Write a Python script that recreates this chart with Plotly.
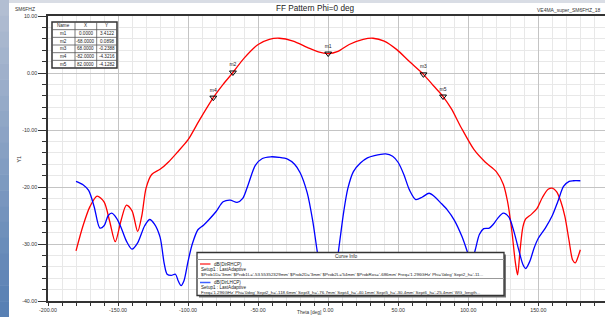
import plotly.graph_objects as go

# ---------------- data ----------------
rhcp_theta = [-180, -175, -170, -165, -160, -156, -152, -148, -144, -140, -136, -133, -130, -126, -120,
              -114, -108, -100, -92, -82, -75, -68, -60, -50, -42, -35, -25, -15, -7, 0, 7, 15, 25, 32,
              40, 49, 58, 68, 75, 82, 88, 95, 104, 112, 120, 125, 128, 131, 133.5, 135.2, 137, 139, 141,
              145, 149, 153, 157, 160, 163, 166, 169, 172, 174.5, 176.5, 178, 180]
rhcp_db = [-31.2, -26.8, -23.4, -21.6, -22.6, -26.0, -29.6, -26.0, -23.2, -24.2, -27.8, -25.0, -20.2, -17.8, -16.9,
           -15.6, -14.0, -11.7, -8.3, -4.3216, -2.0, 0.0898, 2.6, 5.0, 5.9, 6.1, 5.6, 4.5, 3.7, 3.4122, 3.8, 5.0, 5.9, 6.1,
           5.6, 4.1, 2.0, -0.2388, -2.2, -4.1282, -6.3, -9.6, -13.4, -15.6, -17.3, -19.5, -22.5, -27.5, -33.0, -35.4, -31.0, -27.0, -25.6,
           -24.8, -23.8, -21.8, -20.4, -20.2, -20.8, -22.5, -25.2, -29.5, -32.8, -33.3, -32.5, -31.0]

lhcp_theta = [-180, -175, -171, -167, -163, -160, -157, -154.5, -151, -148, -144, -140, -136, -131, -127.5, -124,
              -120, -117, -115, -112, -109, -107, -105, -103, -100, -97, -93, -89, -85, -80, -75, -70, -65, -61,
              -57, -52, -47, -41, -35, -29, -24, -20, -15, -11, -8, -5, 0, 5, 8, 11, 14, 18, 23, 28, 33, 41, 46,
              50, 54, 58, 62.5, 67, 72, 76, 80, 85, 90, 95.5, 99.5, 102, 105, 108, 111, 115, 118, 121, 125, 129,
              132, 136, 139, 141, 144, 147, 150, 155, 160, 164, 168, 172, 175, 180]
lhcp_db = [-19.0, -19.6, -20.6, -23.5, -27.2, -26.8, -25.0, -24.6, -25.5, -27.0, -29.5, -30.9, -29.8, -26.8, -25.7, -26.5,
           -28.8, -33.5, -35.3, -35.5, -35.3, -36.5, -37.3, -36.5, -33.0, -30.0, -27.5, -26.7, -25.7, -24.3, -22.6, -22.3, -22.7, -22.0,
           -19.5, -16.2, -15.0, -14.7, -14.8, -15.1, -16.0, -17.5, -21.0, -26.0, -31.0, -35.5, -38.0, -35.0, -30.0, -24.5, -20.3, -17.3, -15.8, -14.9, -14.5, -14.2, -14.6,
           -15.7, -17.8, -20.5, -22.2, -21.8, -21.1, -21.7, -22.7, -24.0, -25.8, -28.7, -31.5, -33.5, -31.0, -28.3, -27.3, -27.2, -26.5, -25.5, -24.6, -25.3,
           -27.3, -31.0, -33.6, -34.3, -33.0, -30.7, -29.0, -27.2, -25.0, -22.5, -19.9, -19.0, -18.9, -18.9]

marker_names = ["m1", "m2", "m3", "m4", "m5"]
marker_x = [0.0, -68.0, 68.0, -82.0, 82.0]
marker_y = [3.4122, 0.0898, -0.2388, -4.3216, -4.1282]

x_ticks = [-200, -150, -100, -50, 0, 50, 100, 150]
y_ticks = [10, 0, -10, -20, -30, -40]

legend_lines = [
    ("dB(DirRHCP)", "Setup1 : LastAdaptive",
     "$Prob1D='3mm' $Prob1L='-53.55352329mm' $Prob2D='3mm' $Prob2L='54mm' $ProbRos='-686mm' Freq='1.296GHz' Phi='0deg' Sept2_h='-11..."),
    ("dB(DirLHCP)", "Setup1 : LastAdaptive",
     "Freq='1.296GHz' Phi='0deg' Sept2_h='-118.6mm' Sept3_h='-76.7mm' Sept4_h='-40.1mm' Sept5_h='-30.4mm' Sept6_h='-25.4mm' WG_length..."),
]

# ---------------- geometry helpers ----------------
W, H = 605, 317
L, R, T, B = 48, 0, 16, 16
PW, PH = W - L - R, H - T - B
FONT = "Arial, Liberation Sans, sans-serif"


def px(x):
    return (x - L) / PW


def py(y):
    return (H - B - y) / PH


fig = go.Figure()

fig.add_trace(go.Scatter(x=rhcp_theta, y=rhcp_db, mode="lines", name="dB(DirRHCP)",
                         line=dict(color="#ff0000", width=1.3, shape="spline", smoothing=0.8),
                         hoverinfo="skip"))
fig.add_trace(go.Scatter(x=lhcp_theta, y=lhcp_db, mode="lines", name="dB(DirLHCP)",
                         line=dict(color="#0000ff", width=1.3, shape="spline", smoothing=0.8),
                         hoverinfo="skip"))
fig.add_trace(go.Scatter(x=marker_x, y=marker_y, mode="markers+text", text=marker_names,
                         textposition="top center", textfont=dict(size=5, color="#222", family=FONT),
                         marker=dict(symbol="triangle-down-open", size=6, color="#000",
                                     line=dict(width=1, color="#000")),
                         hoverinfo="skip"))

shapes = []
annotations = []

# background blue strip on left (gradient imitation)
n = 20
top_c = (178, 190, 210)
bot_c = (88, 128, 180)
for i in range(n):
    f = i / (n - 1)
    c = tuple(int(top_c[k] + (bot_c[k] - top_c[k]) * f) for k in range(3))
    y0 = H * i / n
    y1 = H * (i + 1) / n
    shapes.append(dict(type="rect", xref="paper", yref="paper", x0=px(0), x1=px(9),
                       y0=py(y1 + 0.5), y1=py(y0), fillcolor="rgb(%d,%d,%d)" % c, line=dict(width=0),
                       layer="below"))
# top grey strip
shapes.append(dict(type="rect", xref="paper", yref="paper", x0=px(9), x1=px(W), y0=py(3), y1=py(0),
                   fillcolor="#d9dde5", line=dict(width=0), layer="below"))

# ---- marker table ----
tx = [52, 75, 96.7, 117]
ty0, rowh = 22, 7.67
rows = [("Name", "X", "Y")] + [(marker_names[i], "%.4f" % marker_x[i], "%.4f" % marker_y[i])
                                 for i in range(len(marker_names))]
ty1 = ty0 + rowh * len(rows)
shapes.append(dict(type="rect", xref="paper", yref="paper", x0=px(tx[0]), x1=px(tx[-1]),
                   y0=py(ty1), y1=py(ty0), fillcolor="white", line=dict(color="#333", width=1.5),
                   layer="above"))
for j in range(1, len(tx) - 1):
    shapes.append(dict(type="line", xref="paper", yref="paper", x0=px(tx[j]), x1=px(tx[j]),
                       y0=py(ty1), y1=py(ty0), line=dict(color="#555", width=0.8), layer="above"))
for i in range(1, len(rows)):
    yy = ty0 + rowh * i
    shapes.append(dict(type="line", xref="paper", yref="paper", x0=px(tx[0]), x1=px(tx[-1]),
                       y0=py(yy), y1=py(yy), line=dict(color="#555", width=0.8), layer="above"))
for i, row in enumerate(rows):
    yc = ty0 + rowh * (i + 0.5)
    for j, txt in enumerate(row):
        xc = (tx[j] + tx[j + 1]) / 2
        annotations.append(dict(xref="paper", yref="paper", x=px(xc), y=py(yc), text=txt, showarrow=False,
                                xanchor="center", yanchor="middle", font=dict(size=4.6, color="#222", family=FONT)))

# ---- curve info box ----
lx0, lx1, ly0, ly1 = 197, 504, 252.5, 295.5
shapes.append(dict(type="rect", xref="paper", yref="paper", x0=px(lx0 + 2), x1=px(lx1 + 2),
                   y0=py(ly1 + 2), y1=py(ly0 + 2), fillcolor="#777", line=dict(width=0), layer="above"))
shapes.append(dict(type="rect", xref="paper", yref="paper", x0=px(lx0), x1=px(lx1),
                   y0=py(ly1), y1=py(ly0), fillcolor="white", line=dict(color="#333", width=1.3),
                   layer="above"))
for yy in (259.5, 278.5):
    shapes.append(dict(type="line", xref="paper", yref="paper", x0=px(lx0), x1=px(lx1),
                       y0=py(yy), y1=py(yy), line=dict(color="#999", width=1), layer="above"))
annotations.append(dict(xref="paper", yref="paper", x=px(346), y=py(256), text="Curve Info", showarrow=False,
                        xanchor="center", yanchor="middle", font=dict(size=4.8, color="#222", family=FONT)))
entry_y = [264, 282.5]
colors = ["#ff4040", "#4060ff"]
for k, (name, setup, desc) in enumerate(legend_lines):
    y0 = entry_y[k]
    shapes.append(dict(type="line", xref="paper", yref="paper", x0=px(200), x1=px(210.5),
                       y0=py(y0), y1=py(y0), line=dict(color=colors[k], width=1.5), layer="above"))
    annotations.append(dict(xref="paper", yref="paper", x=px(212), y=py(y0), text=name, showarrow=False,
                            xanchor="left", yanchor="middle", font=dict(size=4.6, color="#222", family=FONT)))
    annotations.append(dict(xref="paper", yref="paper", x=px(199), y=py(y0 + 5), text=setup, showarrow=False,
                            xanchor="left", yanchor="middle", font=dict(size=4.6, color="#222", family=FONT)))
    annotations.append(dict(xref="paper", yref="paper", x=px(199), y=py(y0 + 10), text=desc, showarrow=False,
                            xanchor="left", yanchor="middle", font=dict(size=4.4, color="#222", family=FONT)))

# titles / labels
annotations.append(dict(xref="paper", yref="paper", x=px(315), y=py(9), text="FF Pattern Phi=0 deg",
                        showarrow=False, xanchor="center", yanchor="middle",
                        font=dict(size=8.2, color="#222", family=FONT)))
annotations.append(dict(xref="paper", yref="paper", x=px(13), y=py(9), text="SM6FHZ",
                        showarrow=False, xanchor="left", yanchor="middle",
                        font=dict(size=5, color="#333", family=FONT)))
annotations.append(dict(xref="paper", yref="paper", x=px(603), y=py(10), text="VE4MA_super_SM6FHZ_18",
                        showarrow=False, xanchor="right", yanchor="middle",
                        font=dict(size=5, color="#333", family=FONT)))
annotations.append(dict(xref="x", yref="paper", x=200, y=py(307), text="200.00",
                        showarrow=False, xanchor="center", yanchor="middle",
                        font=dict(size=5.3, color="#333", family=FONT)))
annotations.append(dict(xref="paper", yref="paper", x=px(309), y=py(317), text="Theta [deg]",
                        showarrow=False, xanchor="center", yanchor="bottom",
                        font=dict(size=4.8, color="#333", family=FONT)))
annotations.append(dict(xref="paper", yref="paper", x=px(18.5), y=py(159), text="Y1", textangle=-90,
                        showarrow=False, xanchor="center", yanchor="middle",
                        font=dict(size=5.3, color="#333", family=FONT)))

fig.update_layout(
    width=W, height=H,
    margin=dict(l=L, r=R, t=T, b=B, pad=0, autoexpand=False),
    paper_bgcolor="white", plot_bgcolor="white",
    showlegend=False,
    shapes=shapes, annotations=annotations,
    font=dict(family=FONT, size=5.3, color="#333"),
)
fig.update_xaxes(
    range=[-200, 197.6], tickvals=x_ticks, ticktext=["%.2f" % v for v in x_ticks],
    showline=True, linecolor="#333", linewidth=1.5, mirror=True, automargin=False,
    ticks="outside", ticklen=3, tickwidth=1, tickcolor="#333",
    showgrid=True, gridcolor="#c4c4c4", gridwidth=1, zeroline=False,
    minor=dict(dtick=10, tick0=0, ticks="outside", ticklen=3, tickcolor="#333",
               showgrid=True, gridcolor="#e8e8e8", gridwidth=1),
    tickfont=dict(size=5.3, color="#333", family=FONT),
)
fig.update_yaxes(
    range=[-40, 10], tickvals=y_ticks, ticktext=["%.2f" % v for v in y_ticks],
    showline=True, linecolor="#333", linewidth=1.5, automargin=False,
    ticks="outside", ticklen=8, tickwidth=1, tickcolor="#333",
    showgrid=True, gridcolor="#c4c4c4", gridwidth=1, zeroline=False,
    minor=dict(dtick=2, tick0=0, ticks="outside", ticklen=4, tickcolor="#333",
               showgrid=True, gridcolor="#e8e8e8", gridwidth=1),
    tickfont=dict(size=5.3, color="#333", family=FONT),
)

fig.write_html("out.html", config={"displayModeBar": False},
               post_script="document.body.style.margin='0';document.body.style.overflow='hidden';")
